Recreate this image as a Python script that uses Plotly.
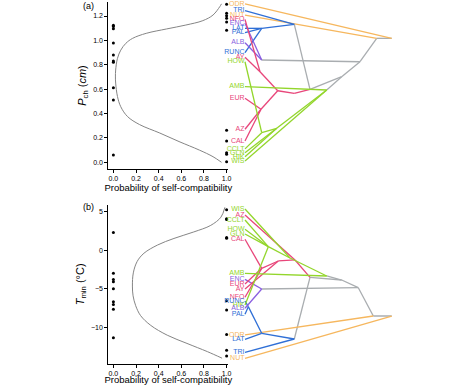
import plotly.graph_objects as go

W, H = 474, 385

# ---------------- data: panel (a) ----------------
curve_a_p = [0.955, 0.88, 0.76, 0.58, 0.41, 0.23, 0.125, 0.065, 0.036, 0.02, 0.018, 0.02, 0.036, 0.065, 0.11, 0.17, 0.29, 0.47, 0.64, 0.79, 0.88, 0.94, 0.955]
curve_a_y = [0.0, 0.046, 0.10, 0.17, 0.24, 0.31, 0.375, 0.456, 0.54, 0.65, 0.70, 0.757, 0.853, 0.92, 0.976, 1.017, 1.058, 1.094, 1.126, 1.162, 1.208, 1.277, 1.30]
pts_a_sc = [1.296, 1.222, 1.203, 1.181, 1.151, 1.083, 0.262, 0.175, 0.079, 0.066, 0.005]
pts_a_si = [1.124, 1.113, 1.096, 0.979, 0.880, 0.831, 0.820, 0.612, 0.511, 0.060]

labels_a = ["ODR", "TRI", "NUT", "NFO", "ENC", "LAT", "PAL", "ALB", "RUNC", "AY", "HOW", "AMB", "EUR", "AZ", "CAL", "CCLT", "GLN", "HIK", "WIS"]
labels_a_y = [1.299, 1.244, 1.208, 1.173, 1.140, 1.099, 1.063, 0.981, 0.899, 0.861, 0.825, 0.620, 0.525, 0.271, 0.175, 0.11, 0.078, 0.045, 0.01]

nodes_a = ["R0", "R1", "R2", "R3", "Gn", "G2", "B", "Bn1", "P", "Pk0", "Pk1", "Pk2", "Pk3", "Gn1", "Gn2"]
nodes_a_x = [391.7, 376.7, 360, 341.7, 326.7, 310, 294.3, 261.7, 261.7, 294.3, 277.7, 260, 261, 276.7, 261.7]
nodes_a_y = [1.017, 1.017, 0.825, 0.702, 0.593, 0.599, 1.132, 1.099, 0.839, 0.566, 0.587, 0.743, 0.435, 0.279, 0.243]

edges_a = [
    ("R0", "R1", "gray"), ("R0", "ODR", "orange"), ("R1", "NUT", "orange"), ("R1", "R2", "gray"),
    ("R2", "P", "gray"), ("R2", "R3", "gray"), ("R3", "Gn", "gray"), ("R3", "G2", "gray"),
    ("G2", "B", "gray"), ("G2", "Pk0", "pink"),
    ("B", "TRI", "blue"), ("B", "Bn1", "blue"), ("Bn1", "LAT", "blue"), ("Bn1", "PAL", "blue"), ("Bn1", "RUNC", "blue"),
    ("P", "ALB", "purple"), ("P", "ENC", "purple"),
    ("Pk0", "Pk1", "pink"), ("Pk1", "Pk2", "pink"), ("Pk2", "NFO", "pink"), ("Pk2", "AY", "pink"),
    ("Pk1", "Pk3", "pink"), ("Pk3", "EUR", "pink"), ("Pk3", "AZ", "pink"), ("Pk3", "CAL", "pink"),
    ("Gn", "AMB", "green"), ("Gn", "Gn1", "green"), ("Gn1", "Gn2", "green"), ("Gn2", "HOW", "green"),
    ("Gn2", "CCLT", "green"), ("Gn1", "GLN", "green"), ("Gn1", "HIK", "green"), ("Gn", "WIS", "green"),
]

# ---------------- data: panel (b) ----------------
curve_b_p = [0.96, 0.83, 0.65, 0.476, 0.33, 0.24, 0.197, 0.174, 0.168, 0.176, 0.21, 0.27, 0.39, 0.535, 0.71, 0.86, 0.95, 0.985]
curve_b_y = [-13.94, -13.09, -12.03, -10.97, -9.70, -8.43, -7.16, -5.89, -4.62, -2.92, -1.44, -0.38, 0.68, 1.53, 2.37, 3.22, 4.28, 5.55]
pts_b_sc = [5.25, 4.07, 3.98, 1.65, 1.57, -6.53, -7.71, -10.89, -12.92, -13.64]
pts_b_si = [2.29, -2.97, -3.77, -4.07, -4.96, -6.65, -6.99, -7.63, -11.31]

labels_b = ["WIS", "AZ", "CCLT", "HOW", "GLN", "CAL", "AMB", "ENC", "EUR", "AY", "NFO", "RUNC", "HIK", "ALB", "PAL", "ODR", "LAT", "TRI", "NUT"]
labels_b_y = [5.34, 4.56, 3.91, 2.71, 2.11, 1.42, -2.97, -3.75, -4.35, -5.0, -6.07, -6.55, -7.07, -7.49, -8.27, -10.94, -11.50, -13.18, -13.95]

nodes_b = ["R0", "R1", "R2", "R3", "Gn", "G2", "B", "Bn1", "Bn2", "P", "Pk0", "Pk1", "Pk2", "Gn1", "Gn2"]
nodes_b_x = [391.7, 373.3, 358.3, 341.7, 326.7, 310, 294.3, 261.7, 248.3, 261.7, 295, 278.3, 261.7, 290, 268.3]
nodes_b_y = [-8.49, -8.49, -4.83, -3.84, -3.32, -3.49, -11.46, -10.72, -7.28, -5.0, -1.25, -1.38, -2.33, -1.0, 0.47]

edges_b = [
    ("R0", "R1", "gray"), ("R0", "NUT", "orange"), ("R1", "ODR", "orange"), ("R1", "R2", "gray"),
    ("R2", "P", "gray"), ("R2", "R3", "gray"), ("R3", "Gn", "gray"), ("R3", "G2", "gray"),
    ("G2", "B", "gray"), ("G2", "Pk0", "pink"),
    ("B", "TRI", "blue"), ("B", "Bn1", "blue"), ("Bn1", "LAT", "blue"), ("Bn1", "Bn2", "blue"),
    ("Bn2", "RUNC", "blue"), ("Bn2", "PAL", "blue"),
    ("P", "ENC", "purple"), ("P", "ALB", "purple"),
    ("Pk0", "AZ", "pink"), ("Pk0", "Pk1", "pink"), ("Pk1", "Pk2", "pink"), ("Pk2", "CAL", "pink"),
    ("Pk2", "EUR", "pink"), ("Pk1", "AY", "pink"), ("Pk2", "NFO", "pink"),
    ("Gn", "AMB", "green"), ("Gn", "Gn1", "green"), ("Gn1", "WIS", "green"), ("Gn1", "Gn2", "green"),
    ("Gn2", "HOW", "green"), ("Gn2", "GLN", "green"), ("Gn2", "CCLT", "green"), ("Gn2", "HIK", "green"),
]

label_group = {
    "ODR": "orange", "NUT": "orange",
    "TRI": "blue", "LAT": "blue", "PAL": "blue", "RUNC": "blue",
    "ENC": "purple", "ALB": "purple",
    "NFO": "pink", "AY": "pink", "EUR": "pink", "AZ": "pink", "CAL": "pink",
    "HOW": "green", "AMB": "green", "CCLT": "green", "GLN": "green", "HIK": "green", "WIS": "green",
}
palette = {"orange": "#f6b75e", "blue": "#2f6fd6", "purple": "#8a5fe0",
           "pink": "#e8467a", "green": "#93d62c", "gray": "#a9adb0"}
leaf_x = 245

# ---------------- figure ----------------
def px_x(p):
    return p / W

def px_y(p):
    return 1 - p / H

fig = go.Figure()

def add_panel(xa, ya, cp, cy, sc, si):
    fig.add_trace(go.Scatter(x=cp, y=cy, mode="lines", line=dict(color="#858585", width=1, shape="spline"),
                             xaxis=xa, yaxis=ya, hoverinfo="skip"))
    fig.add_trace(go.Scatter(x=[1.0] * len(sc), y=sc, mode="markers", marker=dict(color="black", size=3),
                             xaxis=xa, yaxis=ya, cliponaxis=False))
    fig.add_trace(go.Scatter(x=[0.0] * len(si), y=si, mode="markers", marker=dict(color="black", size=3),
                             xaxis=xa, yaxis=ya, cliponaxis=False))

def add_tree(xt, ya, labels, labels_y, nodes, nx, ny, edges):
    pos = {n: (x, y) for n, x, y in zip(nodes, nx, ny)}
    for lab, y in zip(labels, labels_y):
        pos[lab] = (leaf_x, y)
    for col in ["gray", "orange", "blue", "purple", "pink", "green"]:
        xs, ys = [], []
        for a, b, c in edges:
            if c != col:
                continue
            xs += [pos[a][0], pos[b][0], None]
            ys += [pos[a][1], pos[b][1], None]
        if xs:
            fig.add_trace(go.Scatter(x=xs, y=ys, mode="lines", line=dict(color=palette[col], width=1.3),
                                     xaxis=xt, yaxis=ya, cliponaxis=False, hoverinfo="skip"))
    fig.add_trace(go.Scatter(x=[leaf_x - 0.5] * len(labels), y=labels_y, mode="text", text=labels,
                             textposition="middle left",
                             textfont=dict(size=7, color=[palette[label_group[l]] for l in labels],
                                           family="Liberation Sans, Arial"),
                             xaxis=xt, yaxis=ya, cliponaxis=False, hoverinfo="skip"))

add_tree("x3", "y", labels_a, labels_a_y, nodes_a, nodes_a_x, nodes_a_y, edges_a)
add_tree("x4", "y2", labels_b, labels_b_y, nodes_b, nodes_b_x, nodes_b_y, edges_b)
add_panel("x", "y", curve_a_p, curve_a_y, pts_a_sc, pts_a_si)
add_panel("x2", "y2", curve_b_p, curve_b_y, pts_b_sc, pts_b_si)

xdom = [px_x(108.3), px_x(228.3)]
tickfont = dict(size=7, color="black", family="Liberation Sans, Arial")
common_x = dict(domain=xdom, range=[-0.045, 1.015], tickvals=[0, 0.2, 0.4, 0.6, 0.8, 1.0],
                ticktext=["0.0", "0.2", "0.4", "0.6", "0.8", "1.0"], showline=True, linecolor="black",
                linewidth=1, ticks="outside", ticklen=3, tickcolor="black", showgrid=False, zeroline=False,
                tickfont=tickfont, automargin=False,
                title=dict(text="Probability of self-compatibility", standoff=2,
                           font=dict(size=9.5, color="black", family="Liberation Sans, Arial")))
common_y = dict(showline=True, linecolor="black", linewidth=1, ticks="outside", ticklen=3,
                tickcolor="black", showgrid=False, zeroline=False, tickfont=tickfont, automargin=False)

fig.update_layout(
    width=W, height=H, margin=dict(l=0, r=0, t=0, b=0, autoexpand=False), showlegend=False,
    paper_bgcolor="white", plot_bgcolor="rgba(0,0,0,0)",
    xaxis=dict(anchor="y", **common_x),
    yaxis=dict(anchor="x", domain=[px_y(169), px_y(2)], range=[-0.055, 1.315],
               tickvals=[0, 0.2, 0.4, 0.6, 0.8, 1.0, 1.2],
               ticktext=["0.0", "0.2", "0.4", "0.6", "0.8", "1.0", "1.2"],
               title=dict(text="<i>P</i><sub>ch</sub> (<i>cm</i>)", standoff=4,
                          font=dict(size=11, color="black", family="Liberation Sans, Arial")),
               **common_y),
    xaxis2=dict(anchor="y2", **common_x),
    yaxis2=dict(anchor="x2", domain=[px_y(363.7), px_y(205)], range=[-14.65, 5.85],
                tickvals=[-10, -5, 0, 5],
                title=dict(text="<i>T</i><sub>min</sub> (°C)", standoff=4,
                           font=dict(size=11, color="black", family="Liberation Sans, Arial")),
                **common_y),
    xaxis3=dict(anchor="y", domain=[px_x(200), 1], range=[200, 474], visible=False, automargin=False),
    xaxis4=dict(anchor="y2", domain=[px_x(200), 1], range=[200, 474], visible=False, automargin=False),
)

fig.add_annotation(x=px_x(88), y=px_y(6), xref="paper", yref="paper", text="(a)", showarrow=False,
                   xanchor="center", yanchor="middle",
                   font=dict(size=9, color="black", family="Liberation Sans, Arial"))
fig.add_annotation(x=px_x(88), y=px_y(207), xref="paper", yref="paper", text="(b)", showarrow=False,
                   xanchor="center", yanchor="middle",
                   font=dict(size=9, color="black", family="Liberation Sans, Arial"))

fig.write_html("out.html", config={"displayModeBar": False},
               post_script="document.body.style.margin='0px';document.body.style.overflow='hidden';")
